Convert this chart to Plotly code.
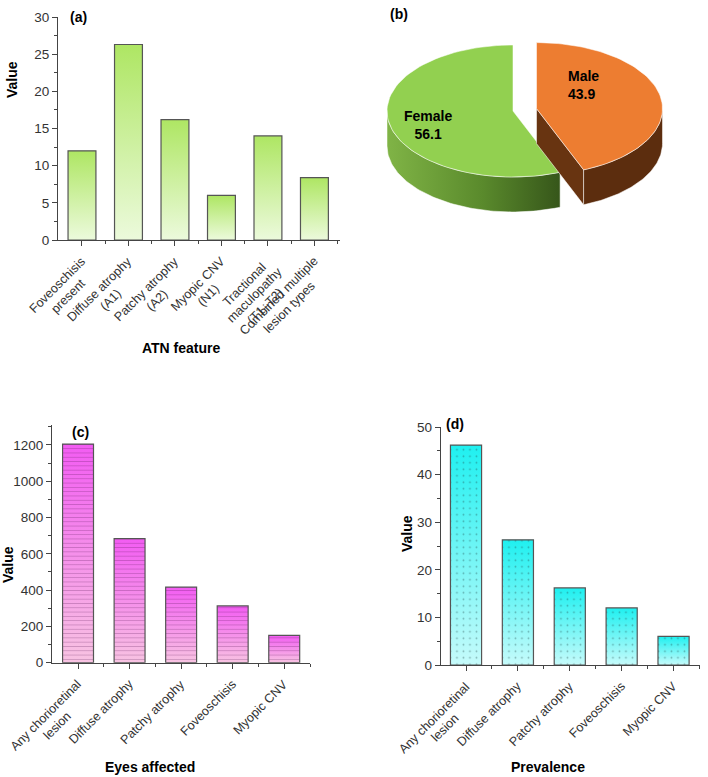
import math
import plotly.graph_objects as go

W, H = 708, 777

# ---------------- data ----------------
atn_labels = ["Foveoschisis<br>present", "Diffuse atrophy<br>(A1)", "Patchy atrophy<br>(A2)",
              "Myopic CNV<br>(N1)", "Tractional<br>maculopathy<br>(T1–T2)", "Combined multiple<br>lesion types"]
atn_values = [12.0, 26.3, 16.2, 6.0, 14.0, 8.4]

sex_labels = ["Male", "Female"]
sex_values = [43.9, 56.1]

lesion_labels = ["Any chorioretinal<br>lesion", "Diffuse atrophy", "Patchy atrophy", "Foveoschisis", "Myopic CNV"]
eyes_values = [1205, 684, 417, 313, 151]
prev_values = [46.2, 26.3, 16.2, 12.0, 6.0]

# ---------------- style ----------------
FONT = "Liberation Sans, Arial, sans-serif"
AXC = "#444444"
TXC = "#333333"
BAR_W = 0.6
XLAB_SIZE = 12.6
XLAB_LH = 15.3


def px(x):
    return x / W


def py(y):
    return 1 - y / H


fig = go.Figure()


def gradient_bars(values, xa, ya, light, dark):
    hw = BAR_W / 2
    for i, v in enumerate(values):
        fig.add_trace(go.Scatter(
            x=[i - hw, i + hw, i + hw, i - hw, i - hw], y=[0, 0, v, v, 0],
            xaxis=xa, yaxis=ya, mode="lines", fill="toself", line=dict(width=0),
            fillgradient=dict(type="vertical", colorscale=[[0, light], [1, dark]]),
            hoverinfo="skip", showlegend=False))


def outline_bars(values, xa, ya, pattern=None):
    marker = dict(color="rgba(0,0,0,0)", line=dict(color="#555555", width=1.2))
    if pattern:
        marker["pattern"] = pattern
    fig.add_trace(go.Bar(x=list(range(len(values))), y=values, width=BAR_W,
                         xaxis=xa, yaxis=ya, marker=marker, showlegend=False))


# panel (a)
gradient_bars(atn_values, "x", "y", "#ecfadc", "#aee663")
outline_bars(atn_values, "x", "y2")
# panel (c)
gradient_bars(eyes_values, "x2", "y3", "#f8c3e2", "#f25cf2")
outline_bars(eyes_values, "x2", "y4",
             dict(shape="-", fgcolor="rgba(70,10,70,0.5)", size=4.3, solidity=0.2, fillmode="overlay"))
# panel (d)
gradient_bars(prev_values, "x3", "y5", "#c6fbfb", "#1ff0f0")
outline_bars(prev_values, "x3", "y6",
             dict(shape=".", fgcolor="rgba(30,70,70,0.8)", size=6.5, solidity=0.06, fillmode="overlay"))

# ---------------- 3D pie (panel b) ----------------
CX, CY, A, B, DEPTH, PULL = 513, 111, 126, 66, 35, 0.19
tot = sum(sex_values)
male_span = sex_values[0] / tot * 360.0


def ell(cx, cy, deg, dy=0):
    t = math.radians(deg)
    return cx + A * math.sin(t), cy - B * math.cos(t) + dy


def arc(cx, cy, d0, d1, dy=0, n=80):
    pts = [ell(cx, cy, d0 + (d1 - d0) * k / n, dy) for k in range(n + 1)]
    return [p[0] for p in pts], [p[1] for p in pts]


mid = math.radians(male_span / 2)
mcx, mcy = CX + PULL * A * math.sin(mid), CY - PULL * B * math.cos(mid)


def poly(xs, ys, **kw):
    fig.add_trace(go.Scatter(x=xs + [xs[0]], y=ys + [ys[0]], xaxis="x4", yaxis="y7", mode="lines",
                             fill="toself", hoverinfo="skip", showlegend=False, **kw))


edge = dict(color="rgba(255,255,255,0.65)", width=0.8)
# female outer side wall
f0, f1 = max(male_span, 90), 270
tx, ty = arc(CX, CY, f0, f1)
bx, by = arc(CX, CY, f0, f1, DEPTH)
poly(tx + bx[::-1], ty + by[::-1], line=edge,
     fillgradient=dict(type="horizontal", colorscale=[[0, "#80b446"], [0.55, "#5a8a2c"], [1, "#36561a"]]))
# female top face
tx, ty = arc(CX, CY, male_span, 360)
poly([CX] + tx, [CY] + ty, line=edge, fillcolor="#92d050")
# male cut face
rx, ry = ell(mcx, mcy, male_span)
poly([mcx, rx, rx, mcx], [mcy, ry, ry + DEPTH, mcy + DEPTH], line=edge, fillcolor="#683411")
# male outer side wall
tx, ty = arc(mcx, mcy, 90, male_span)
bx, by = arc(mcx, mcy, 90, male_span, DEPTH)
poly(tx + bx[::-1], ty + by[::-1], line=edge, fillcolor="#5c2d0e")
# male top face
tx, ty = arc(mcx, mcy, 0, male_span)
poly([mcx] + tx, [mcy] + ty, line=edge, fillcolor="#ed7d31")

# ---------------- axes ----------------
tickfont = dict(family=FONT, size=13.5, color=TXC)


def xax(dom, n, anchor, rng):
    return dict(domain=dom, range=rng, anchor=anchor, tickmode="array", tickvals=list(range(n)),
                showticklabels=False, ticks="outside", ticklen=5, tickcolor=AXC,
                showline=True, linecolor=AXC, linewidth=1, showgrid=False, zeroline=False,
                automargin=False,
                minor=dict(tickmode="array", tickvals=[k + 0.5 for k in range(n)], ticks="outside",
                           ticklen=3, tickcolor=AXC, showgrid=False))


def yax(dom, rng, dtick, mdt, anchor):
    return dict(domain=dom, range=rng, anchor=anchor, dtick=dtick, ticks="outside", ticklen=5,
                tickcolor=AXC, showline=True, linecolor=AXC, linewidth=1, showgrid=False,
                zeroline=False, tickfont=tickfont, automargin=False,
                minor=dict(dtick=mdt, ticks="outside", ticklen=3, tickcolor=AXC, showgrid=False))


def yover(base, rng, anchor):
    return dict(overlaying=base, range=rng, anchor=anchor, visible=False, showgrid=False,
                zeroline=False, automargin=False)


ra, rc, rd = [0, 30], [0, 1310], [0, 50]
fig.update_layout(
    template="none",
    width=W, height=H, margin=dict(l=0, r=0, t=0, b=0, pad=0), autosize=False,
    paper_bgcolor="white", plot_bgcolor="white", bargap=0.4,
    xaxis=xax([px(58), px(340)], 6, "y", [-0.516, 5.55]),
    yaxis=yax([py(240), py(17)], ra, 5, 2.5, "x"),
    yaxis2=yover("y", ra, "x"),
    xaxis2=xax([px(52), px(310)], 5, "y3", [-0.505, 4.5]),
    yaxis3=yax([py(662.7), py(425)], rc, 200, 100, "x2"),
    yaxis4=yover("y3", rc, "x2"),
    xaxis3=xax([px(440.7), px(700)], 5, "y5", [-0.488, 4.51]),
    yaxis5=yax([py(665), py(427)], rd, 10, 5, "x3"),
    yaxis6=yover("y5", rd, "x3"),
    xaxis4=dict(domain=[px(354), px(708)], range=[354, 708], anchor="y7", visible=False, automargin=False),
    yaxis7=dict(domain=[py(230), py(0)], range=[230, 0], anchor="x4", visible=False, automargin=False),
)

# approximate Arial advance widths (em/1000) for label layout
CW = {" ": 278, "(": 333, ")": 333, "–": 556, "i": 222, "l": 222, "j": 222, "f": 278, "t": 278,
      "r": 333, "c": 500, "s": 500, "v": 500, "y": 500, "k": 500, "x": 500, "z": 500, "m": 833,
      "w": 722, "A": 667, "C": 722, "D": 722, "F": 611, "M": 833, "N": 722, "P": 667, "T": 611, "V": 667}


def text_w(s, size):
    return sum(CW.get(ch, 556) for ch in s) / 1000 * size


R2 = math.sqrt(2)


# rotated (-45 deg), centre-aligned category labels; block's top-right corner sits near the tick
def cat_labels(labels, xref, axis_y, dx0=-4, dy0=14):
    for i, lab in enumerate(labels):
        lines = lab.split("<br>")
        wb = max(text_w(s, XLAB_SIZE) for s in lines)
        for k, s in enumerate(lines):
            u = -wb / 2
            v = (k + 0.5) * XLAB_LH
            cx = dx0 + (u + v) / R2
            cy = dy0 + (v - u) / R2
            fig.add_annotation(text=s, x=i, y=py(axis_y), xref=xref, yref="paper",
                               xanchor="center", yanchor="middle", textangle=-45,
                               xshift=cx, yshift=-cy, showarrow=False,
                               font=dict(family=FONT, size=XLAB_SIZE, color=TXC))


cat_labels(atn_labels, "x", 240)
cat_labels(lesion_labels, "x2", 662.7)
cat_labels(lesion_labels, "x3", 665)


def note(text, x, y, angle=0, size=14, align="center"):
    fig.add_annotation(text=f"<b>{text}</b>", x=px(x), y=py(y), xref="paper", yref="paper",
                       xanchor="center", yanchor="middle",
                       showarrow=False, textangle=angle, align=align,
                       font=dict(family=FONT, size=size, color="black"))


note("(a)", 78, 17)
note("(b)", 399, 14)
note("(c)", 80, 432)
note("(d)", 455, 424)
note("Value", 12, 80, -90)
note("ATN feature", 181, 348)
note("Value", 8, 565, -90)
note("Eyes affected", 150, 767)
note("Value", 407, 533, -90)
note("Prevalence", 548, 767)
note("Female<br>56.1", 428, 125)
note("Male<br>43.9", 583, 85, align="left")

fig.write_html("out.html")
